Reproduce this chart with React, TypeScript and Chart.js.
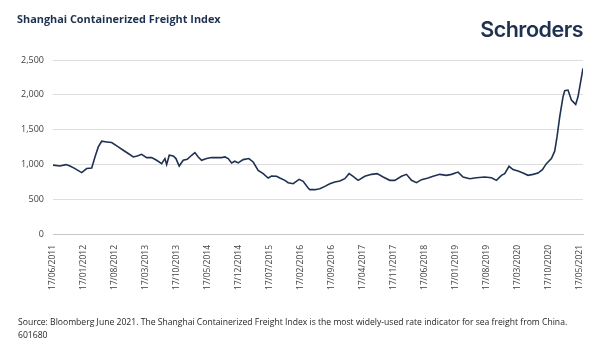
import React, { useEffect, useRef } from "react";
import { Chart, registerables } from "chart.js";

Chart.register(...registerables);

// Months elapsed since 17/06/2011 (x position of each reading)
const monthOffsets: number[] = [
  0, 1.58, 2.93, 3.84, 4.97, 6.48, 7.61, 8.74, 9.48, 10.23, 10.99, 12.12, 13.25, 14.74,
  15.87, 17.0, 18.13, 19.03, 20.02, 21.15, 22.28, 23.41, 24.54, 25.28, 25.67, 26.25,
  27.16, 27.77, 28.51, 29.41, 30.32, 31.31, 32.05, 32.8, 33.57, 34.7, 35.82, 36.95,
  38.08, 38.83, 39.57, 40.34, 41.08, 41.83, 42.96, 44.24, 45.21, 46.34, 47.47, 48.6,
  49.37, 50.5, 51.24, 52.37, 53.11, 54.24, 55.6, 56.5, 57.63, 58.01, 59.14, 60.27,
  61.4, 62.53, 63.66, 64.79, 65.91, 66.88, 67.79, 68.92, 70.43, 71.94, 73.21, 74.56,
  76.07, 77.2, 78.71, 79.84, 80.97, 82.1, 83.23, 84.72, 85.85, 87.36, 88.87, 90.0,
  91.49, 92.62, 94.13, 95.64, 97.52, 99.03, 100.16, 101.29, 102.03, 103.0, 103.91,
  105.03, 106.16, 107.29, 108.42, 109.55, 110.54, 111.44, 112.57, 113.32, 113.84,
  114.45, 115.19, 115.58, 116.32, 117.09, 118.06, 118.58, 119.71,
];

// SCFI index values
const scfiValues: number[] = [
  990, 977, 997, 977, 940, 882, 940, 948, 1107, 1251, 1333, 1323, 1314, 1251,
  1203, 1156, 1107, 1121, 1145, 1098, 1098, 1059, 1011, 1084, 997, 1131,
  1121, 1084, 977, 1059, 1073, 1131, 1170, 1107, 1059, 1084, 1098, 1098,
  1098, 1107, 1084, 1021, 1045, 1021, 1069, 1084, 1035, 915, 867, 804,
  833, 829, 804, 771, 737, 723, 785, 756, 660, 637, 637, 651,
  684, 723, 747, 761, 795, 867, 829, 771, 829, 857, 867, 819,
  771, 771, 829, 857, 771, 737, 781, 804, 829, 857, 843, 857,
  890, 819, 795, 809, 819, 809, 771, 843, 867, 973, 925,
  905, 876, 843, 857, 876, 925, 1011, 1084, 1190, 1395,
  1683, 1971, 2058, 2068, 1924, 1862, 1971, 2381,
];

// Tick positions (months since 17/06/2011), one label every 7 months
const xTickMonths: number[] = [0, 7, 14, 21, 28, 35, 42, 49, 56, 63, 70, 77, 84, 91, 98, 105, 112, 119];
const yTicks: number[] = [0, 500, 1000, 1500, 2000, 2500];

const xMax = 119.71;

const titleText = "Shanghai Containerized Freight Index";
const logoText = "Schroders";
const sourceLine1 =
  "Source: Bloomberg June 2021. The Shanghai Containerized Freight Index is the most widely-used rate indicator for sea freight from China.";
const sourceLine2 = "601680";

function monthLabel(v: number): string {
  const total = 5 + Math.round(v);
  const year = 2011 + Math.floor(total / 12);
  const month = (total % 12) + 1;
  return "17/" + String(month).padStart(2, "0") + "/" + year;
}

const NAVY = "#1f3151";
const FONT = "'Open Sans', 'Noto Sans', sans-serif";

export default function App() {
  const canvasRef = useRef<HTMLCanvasElement | null>(null);

  useEffect(() => {
    document.body.style.margin = "0";
    const canvas = canvasRef.current;
    if (!canvas) return;
    const points = monthOffsets.map((m, i) => ({ x: m, y: scfiValues[i] }));
    const chart = new Chart(canvas, {
      type: "line",
      data: {
        datasets: [
          {
            data: points,
            borderColor: NAVY,
            borderWidth: 1.6,
            pointRadius: 0,
            tension: 0,
            fill: false,
          },
        ],
      },
      options: {
        animation: false,
        responsive: false,
        maintainAspectRatio: false,
        layout: { padding: { top: 60, right: 20, bottom: 48, left: 0 } },
        plugins: { legend: { display: false }, tooltip: { enabled: false }, title: { display: false } },
        scales: {
          x: {
            type: "linear",
            min: 0,
            max: xMax,
            afterBuildTicks: (scale: any) => {
              scale.ticks = xTickMonths.map((v) => ({ value: v }));
            },
            afterFit: (scale: any) => {
              scale.height = 70;
            },
            grid: { display: false, drawTicks: false },
            border: { display: true, color: "#c8c8c8", width: 1 },
            ticks: {
              autoSkip: false,
              minRotation: 90,
              maxRotation: 90,
              padding: 11,
              color: "#404040",
              font: { family: FONT, size: 8.5 },
              callback: (v: any) => monthLabel(Number(v)),
            },
          },
          y: {
            min: 0,
            max: 2500,
            afterBuildTicks: (scale: any) => {
              scale.ticks = yTicks.map((v) => ({ value: v }));
            },
            afterFit: (scale: any) => {
              scale.width = 53;
            },
            grid: { color: "#dedede", lineWidth: 1, drawTicks: false },
            border: { display: false },
            ticks: {
              padding: 9,
              color: "#404040",
              font: { family: FONT, size: 9 },
              callback: (v: any) => Number(v).toLocaleString("en-US"),
            },
          },
        },
      },
    });
    return () => chart.destroy();
  }, []);

  return (
    <div style={{ position: "relative", width: 603, height: 352, background: "#fff", overflow: "hidden" }}>
      <canvas ref={canvasRef} width={603} height={352} style={{ position: "absolute", left: 0, top: 0 }} />
      <div
        style={{
          position: "absolute",
          left: 17,
          top: 11,
          fontFamily: FONT,
          fontWeight: 700,
          fontSize: 10.9,
          color: NAVY,
          whiteSpace: "nowrap",
        }}
      >
        {titleText}
      </div>
      <div
        style={{
          position: "absolute",
          right: 20,
          top: 16,
          fontFamily: "Inter, 'Open Sans', sans-serif",
          fontWeight: 600,
          fontSize: 21.5,
          letterSpacing: -0.5,
          color: NAVY,
          lineHeight: "26px",
          whiteSpace: "nowrap",
        }}
      >
        {logoText}
      </div>
      <div
        style={{
          position: "absolute",
          left: 18,
          top: 316,
          fontFamily: FONT,
          fontSize: 8.6,
          lineHeight: "12.5px",
          color: "#262626",
          whiteSpace: "nowrap",
        }}
      >
        <div>{sourceLine1}</div>
        <div>{sourceLine2}</div>
      </div>
    </div>
  );
}
